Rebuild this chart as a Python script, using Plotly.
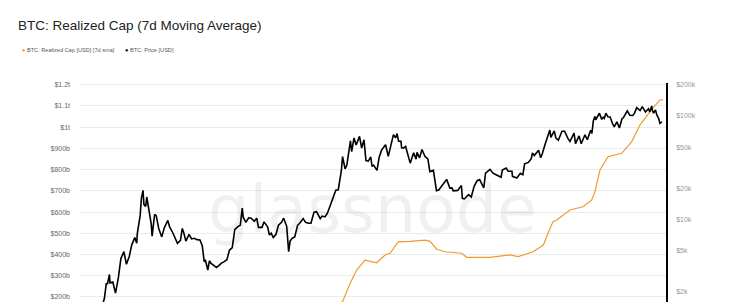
import plotly.graph_objects as go

# ---- Data ----
price_dates = [
 "2017-01-01","2017-01-15","2017-02-01","2017-02-15","2017-03-01","2017-03-15","2017-04-01","2017-04-15",
 "2017-05-01","2017-05-15","2017-05-25","2017-06-01","2017-06-12","2017-06-15","2017-07-01","2017-07-16",
 "2017-08-01","2017-08-15","2017-09-01","2017-09-15","2017-10-01","2017-10-15","2017-11-01","2017-11-12",
 "2017-11-15","2017-12-01","2017-12-08","2017-12-17","2017-12-22","2018-01-01","2018-01-07","2018-01-15",
 "2018-02-01","2018-02-06","2018-02-20","2018-03-01","2018-03-15","2018-04-01","2018-04-15","2018-05-05",
 "2018-05-15","2018-06-01","2018-06-15","2018-06-28","2018-07-15","2018-07-25","2018-08-01","2018-08-14",
 "2018-09-01","2018-09-15","2018-10-01","2018-10-15","2018-11-01","2018-11-14","2018-11-25","2018-12-01",
 "2018-12-15","2018-12-24","2019-01-01","2019-01-15","2019-02-01","2019-02-15","2019-03-01","2019-03-15",
 "2019-04-01","2019-04-15","2019-05-01","2019-05-15","2019-06-01","2019-06-15","2019-06-26","2019-07-01",
 "2019-07-16","2019-08-01","2019-08-15","2019-09-01","2019-09-15","2019-09-25","2019-10-15","2019-10-26",
 "2019-11-15","2019-11-25","2019-12-05","2019-12-17","2020-01-01","2020-01-15","2020-02-01","2020-02-13",
 "2020-03-01","2020-03-12","2020-03-20","2020-04-01","2020-04-15","2020-05-01","2020-05-15","2020-06-01",
 "2020-06-15","2020-07-01","2020-07-15","2020-08-01","2020-08-15","2020-09-05","2020-09-15","2020-10-01",
 "2020-10-15","2020-11-01","2020-11-15","2020-12-01","2020-12-15","2021-01-01","2021-01-08","2021-01-22",
 "2021-02-01","2021-02-15","2021-02-21","2021-02-28","2021-03-13","2021-03-25","2021-04-13","2021-04-25",
 "2021-05-08","2021-05-19","2021-06-01","2021-06-15","2021-06-22","2021-07-01","2021-07-20","2021-08-01",
 "2021-08-15","2021-09-06","2021-09-21","2021-10-01","2021-10-20","2021-11-01","2021-11-09","2021-11-18",
 "2021-12-01","2021-12-05","2021-12-15","2021-12-27","2022-01-10","2022-01-22","2022-02-10","2022-02-24",
 "2022-03-01","2022-03-15","2022-03-29","2022-04-15","2022-05-01","2022-05-12","2022-06-01","2022-06-18",
 "2022-07-01","2022-07-15","2022-08-14","2022-09-01","2022-09-13","2022-09-20","2022-10-15","2022-11-05",
 "2022-11-10","2022-11-21","2022-12-15","2022-12-30","2023-01-15","2023-02-01","2023-02-15","2023-03-10",
 "2023-03-20","2023-04-14","2023-05-01","2023-05-15","2023-06-15","2023-06-22","2023-07-13","2023-07-25",
 "2023-08-15","2023-08-18","2023-09-11","2023-10-01","2023-10-15","2023-10-25","2023-11-15","2023-12-01",
 "2023-12-08","2023-12-18","2024-01-11","2024-01-23","2024-02-01","2024-02-15","2024-03-01","2024-03-14",
 "2024-03-20","2024-04-08","2024-04-17","2024-05-01","2024-05-21","2024-06-05","2024-06-24","2024-07-05",
 "2024-07-28","2024-08-05","2024-08-25","2024-09-06","2024-09-27","2024-10-10","2024-10-29","2024-11-05",
 "2024-11-13","2024-11-22","2024-11-26","2024-12-05","2024-12-17","2024-12-30","2025-01-07","2025-01-13",
 "2025-01-22","2025-02-03","2025-02-15","2025-02-28","2025-03-10","2025-03-25","2025-04-08","2025-04-22",
 "2025-05-01","2025-05-22","2025-06-05","2025-06-22","2025-07-01","2025-07-14","2025-08-02","2025-08-14",
 "2025-09-01","2025-09-18","2025-09-25","2025-10-06","2025-10-10","2025-10-17","2025-10-27","2025-11-04",
 "2025-11-14","2025-11-21","2025-12-02",
]
price_usd = [
 1000,820,990,1010,1220,1250,1080,1180,
 1420,1750,2400,2400,2950,2450,2500,1950,
 2750,4200,4900,3700,4400,5700,6700,5900,
 7300,10900,16000,19100,14000,13400,16500,13600,
 9100,6900,11200,10900,8200,6800,8300,9800,
 8500,7500,6500,5900,6300,8200,7600,6200,
 7200,6500,6600,6400,6350,5600,3900,4100,
 3250,4000,3800,3600,3450,3600,3800,3900,
 4100,5050,5350,8000,8550,8800,12900,10600,
 9400,10400,10300,9600,10300,8400,8400,9500,
 8500,7100,7400,6700,7200,8800,9400,10300,
 8600,4900,6200,6600,6800,8800,9300,10200,
 9400,9200,9200,11800,11900,10200,10800,10600,
 11500,13800,16000,19200,19400,29400,40500,30800,
 33500,48000,57500,45200,61200,52300,63500,49000,
 58800,37000,36600,40100,32500,33500,29800,39900,
 47000,52700,40700,48100,66000,61300,67500,57000,
 57000,49200,48900,50700,41800,35000,44000,38300,
 44400,39300,47400,40500,38500,29000,29800,19000,
 19300,20800,24400,20100,20200,18900,19100,21300,
 16000,15800,17400,16500,20900,23700,24300,20200,
 28000,30500,28000,27200,25600,30000,31400,29200,
 29200,26100,25200,27900,27000,34500,35600,38700,
 44000,41400,46600,39500,43100,52000,62500,73000,
 62000,71600,61200,58300,71000,71100,60300,56700,
 68100,54000,64200,53900,65800,58900,72700,67800,
 90000,98900,91800,98000,106100,92600,96900,94500,
 106100,98000,97500,84400,78600,87500,76300,93400,
 96500,111700,101600,101000,105700,120000,112500,123000,
 109200,117100,109000,124700,113000,106500,114300,101500,
 94500,84700,87800,
]

rcap_dates = [
 "2020-06-01","2020-12-01","2021-01-08","2021-02-19","2021-03-28","2021-05-14","2021-07-18",
 "2021-09-03","2021-10-01","2021-11-16","2022-01-21","2022-04-15","2022-05-13","2022-06-19",
 "2022-08-05","2022-11-06","2022-12-04","2023-04-14","2023-08-04","2023-09-18","2023-12-11",
 "2024-02-07","2024-03-04","2024-04-01","2024-04-22","2024-07-05","2024-09-16","2024-11-04",
 "2024-11-22","2024-12-20","2025-02-03","2025-04-21","2025-06-16","2025-08-01","2025-09-26",
 "2025-11-21","2025-12-08",
]
rcap_busd = [   # realized cap, billions of USD
 100,150,178,264,327,374,361,
 398,406,460,462,468,462,425,
 413,406,387,387,398,390,413,
 445,500,555,563,610,625,657,
 696,798,861,877,932,1010,1073,
 1128,1130,
]

left_ticks = [200, 300, 400, 500, 600, 700, 800, 900, 1000, 1100, 1200]
left_labels = ["$200b", "$300b", "$400b", "$500b", "$600b", "$700b", "$800b", "$900b", "$1t", "$1.1t", "$1.2t"]
right_ticks = [2000, 5000, 10000, 20000, 50000, 100000, 200000]
right_labels = ["$2k", "$5k", "$10k", "$20k", "$50k", "$100k", "$200k"]

ORANGE = "#ee9a30"
FONT = "Liberation Sans, Arial, sans-serif"

fig = go.Figure()
fig.add_trace(go.Scatter(x=rcap_dates, y=rcap_busd, mode="lines",
                         line=dict(color=ORANGE, width=1.2), yaxis="y",
                         name="BTC: Realized Cap [USD] [7d sma]", showlegend=False))
fig.add_trace(go.Scatter(x=price_dates, y=price_usd, mode="lines",
                         line=dict(color="#000000", width=1.6), yaxis="y2",
                         name="BTC: Price [USD]", showlegend=False))

W, H = 745, 302
ML, MR, MT, MB = 80, 79, 83, 0
pw, ph = W - ML - MR, H - MT - MB

def px(x):
    return (x - ML) / pw

def py(y):
    return (H - MB - y) / ph

fig.update_layout(
    width=W, height=H,
    margin=dict(l=ML, r=MR, t=MT, b=MB, pad=0),
    paper_bgcolor="white", plot_bgcolor="white",
    font=dict(family=FONT),
    title=dict(text="BTC: Realized Cap (7d Moving Average)", x=18 / W, xanchor="left",
               xref="container", yref="container", y=1 - 25.5 / H, yanchor="middle",
               font=dict(size=13.5, color="#222222", family=FONT)),
    xaxis=dict(type="date", range=["2016-12-29", "2025-12-25"], visible=False),
    yaxis=dict(range=[176.4, 1208], tickvals=left_ticks, ticktext=left_labels,
               showgrid=True, gridcolor="#ebebeb", gridwidth=1, zeroline=False,
               showline=False, ticks="", ticklabelstandoff=9,
               tickfont=dict(size=7, color="#666666", family=FONT)),
    yaxis2=dict(type="log", range=[3.2044, 5.3174], tickvals=right_ticks, ticktext=right_labels,
                overlaying="y", side="right", showgrid=False, zeroline=False,
                showline=True, linecolor="#000000", linewidth=1.5, ticks="",
                ticklabelstandoff=7,
                tickfont=dict(size=7, color="#999999", family=FONT)),
    showlegend=False,
)

# watermark
fig.add_annotation(text="glassnode", xref="paper", yref="paper", x=px(372), y=py(209),
                   xanchor="center", yanchor="middle", showarrow=False,
                   font=dict(size=65, color="rgba(0,0,0,0.06)", family="DejaVu Sans"))

# legend
fig.add_annotation(text="<span style='color:%s'>●</span> BTC: Realized Cap [USD] [7d sma]" % ORANGE,
                   xref="paper", yref="paper", x=px(20), y=py(50), xanchor="left", yanchor="middle",
                   showarrow=False, font=dict(size=5.6, color="#555555", family=FONT))
fig.add_annotation(text="<span style='color:#000'>●</span> BTC: Price [USD]",
                   xref="paper", yref="paper", x=px(123), y=py(50), xanchor="left", yanchor="middle",
                   showarrow=False, font=dict(size=5.6, color="#555555", family=FONT))

fig.write_html("out.html")
